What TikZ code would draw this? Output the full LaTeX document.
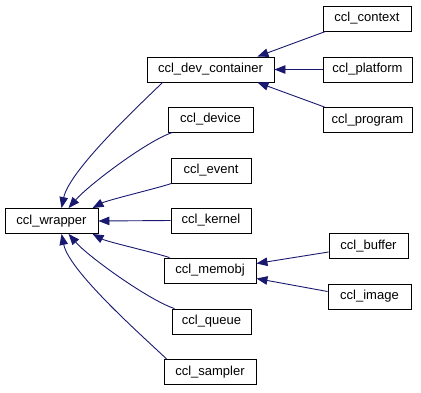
\documentclass[tikz,border=0pt]{standalone}
\usepackage{fontspec}
\setmainfont{Liberation Sans}
\usetikzlibrary{arrows.meta}
\definecolor{edgeblue}{HTML}{191970}

\begin{document}
\begin{tikzpicture}[x=1pt, y=-1pt,
  cls/.style={draw=black, fill=white, line width=0.9pt, minimum height=25pt,
    inner sep=0pt, text height=9.5pt, text depth=2.8pt,
    font=\fontsize{13}{15}\selectfont},
  inh/.style={-{Triangle[length=11pt,width=8.5pt]}, draw=edgeblue, line width=0.9pt},
]
\useasboundingbox (0,0) rectangle (421,392);

% ---------- base class ----------
\node[cls, minimum width=93pt] (wrapper) at (51.5,221) {ccl\_wrapper};

% ---------- direct subclasses ----------
\node[cls, minimum width=127pt] (devcont) at (210.5,69.5)  {ccl\_dev\_container};
\node[cls, minimum width=85pt]  (device)  at (210.5,119.5) {ccl\_device};
\node[cls, minimum width=80pt]  (event)   at (211,170.5)   {ccl\_event};
\node[cls, minimum width=80pt]  (kernel)  at (211,220.5)   {ccl\_kernel};
\node[cls, minimum width=92pt]  (memobj)  at (210,270.5)   {ccl\_memobj};
\node[cls, minimum width=79pt]  (queue)   at (211.5,321.5) {ccl\_queue};
\node[cls, minimum width=92pt]  (sampler) at (210,372)     {ccl\_sampler};

% ---------- second level ----------
\node[cls, minimum width=88pt] (context)  at (367,18.5)  {ccl\_context};
\node[cls, minimum width=89pt] (platform) at (367.5,69.5) {ccl\_platform};
\node[cls, minimum width=89pt] (program)  at (367.5,120)  {ccl\_program};
\node[cls, minimum width=79pt] (buffer)   at (368.5,246)  {ccl\_buffer};
\node[cls, minimum width=83pt] (image)    at (369.5,296.5) {ccl\_image};

% ---------- edges into ccl_wrapper (top side) ----------
\draw[inh] ([xshift=16pt]devcont.south west) .. controls +(-15,15) and +(8,-39) .. ([xshift=57pt]wrapper.north west);
\draw[inh] ([xshift=5pt]device.south west) .. controls +(-25,8) and +(20,-23) .. ([xshift=64pt]wrapper.north west);
\draw[inh] ([xshift=1pt]event.south west) .. controls +(-15,5) and +(15,-8) .. ([xshift=88pt]wrapper.north west);
\draw[inh] (kernel.west) -- (wrapper.east);

% ---------- edges into ccl_wrapper (bottom side) ----------
\draw[inh] ([xshift=6pt]memobj.north west) .. controls +(-15,-5) and +(15,8) .. ([xshift=88pt]wrapper.south west);
\draw[inh] ([xshift=3pt]queue.north west) .. controls +(-25,-8) and +(20,23) .. ([xshift=64pt]wrapper.south west);
\draw[inh] ([xshift=3pt]sampler.north west) .. controls +(-15,-15) and +(8,39) .. ([xshift=57pt]wrapper.south west);

% ---------- second level edges ----------
\draw[inh] ([xshift=3pt]context.south west) -- ([xshift=-17pt]devcont.north east);
\draw[inh] (platform.west) -- (devcont.east);
\draw[inh] ([xshift=2pt]program.north west) -- ([xshift=-17pt]devcont.south east);
\draw[inh] ([yshift=-6pt]buffer.west) -- ([yshift=7pt]memobj.east);
\draw[inh] ([yshift=5pt]image.west) -- ([yshift=-8pt]memobj.east);
\end{tikzpicture}
\end{document}
